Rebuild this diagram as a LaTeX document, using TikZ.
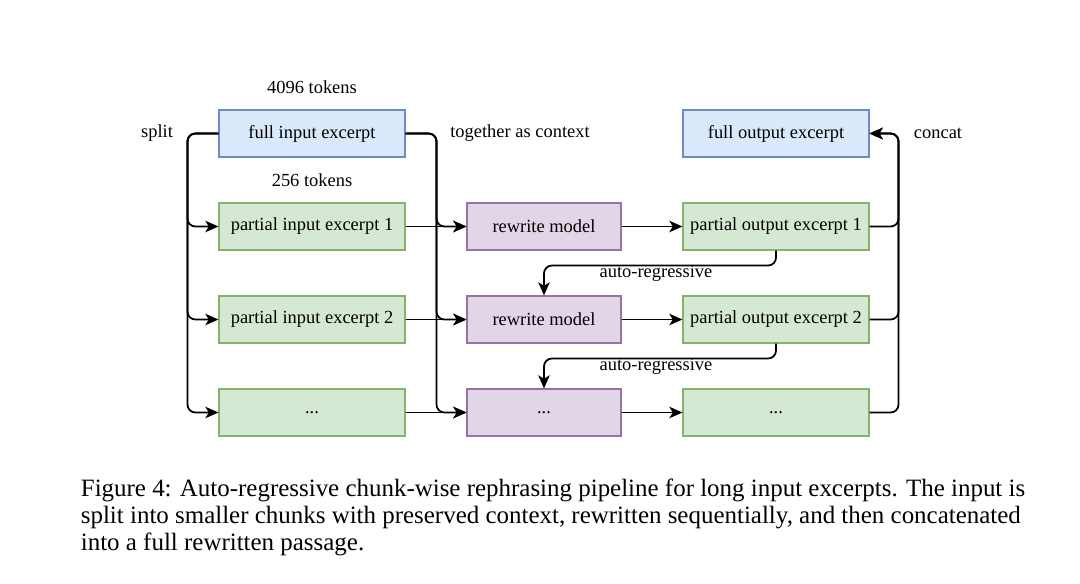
\documentclass[tikz,border=0pt]{standalone}
\usepackage{fontspec}
\setmainfont{Liberation Serif}
\usetikzlibrary{arrows.meta}
\definecolor{inblue}{HTML}{DAE8FC}\definecolor{inblueline}{HTML}{6C8EBF}
\definecolor{chgreen}{HTML}{D5E8D4}\definecolor{chgreenline}{HTML}{82B366}
\definecolor{rwpurple}{HTML}{E1D5E7}\definecolor{rwpurpleline}{HTML}{9673A6}
\tikzset{
 box/.style={draw,line width=0.6pt,minimum height=0.94cm,font=\fontsize{10.5}{12}\selectfont,inner sep=0pt},
 widebox/.style={box,minimum width=3.72cm},
 bluebox/.style={widebox,fill=inblue,draw=inblueline},
 greenbox/.style={widebox,fill=chgreen,draw=chgreenline},
 purplebox/.style={box,minimum width=3.08cm,fill=rwpurple,draw=rwpurpleline},
 lab/.style={font=\fontsize{10.5}{12}\selectfont,inner sep=1pt},
 flow/.style={->,rounded corners=4.5pt}
}
\begin{document}
\begin{tikzpicture}[x=0.02cm,y=-0.02cm,>={Stealth[length=7.5pt,width=6.5pt,inset=2pt]},line width=1pt]
\useasboundingbox (0,0) rectangle (1080,584);
\node[bluebox] (fin) at (312,133.5) {full input excerpt};
\node[bluebox] (fout) at (776,133.5) {full output excerpt};
\foreach \i/\y/\txt in {1/226.5/1,2/319.5/2}{
 \node[greenbox] (pin\i) at (312,\y) {partial input excerpt \txt};
 \node[purplebox] (rw\i) at (544,\y) {rewrite model};
 \node[greenbox] (pout\i) at (776,\y) {partial output excerpt \txt};}
\node[greenbox] (pin3) at (312,412.5) {...};
\node[purplebox] (rw3) at (544,412.5) {...};
\node[greenbox] (pout3) at (776,412.5) {...};
\node[lab] (tok4096) at (312,87) {4096 tokens};
\node[lab] (tok256) at (312,180) {256 tokens};
\node[lab] (split) at (157,133) {split};
\node[lab] (ctx) at (520,133) {together as context};
\node[lab] (concat) at (938,133) {concat};
\foreach \i in {1,2,3}{
 \draw[flow] (fin.west) -- ++(-31,0) |- (pin\i.west);
 \draw[flow] (fin.east) -- ++(31,0) |- (rw\i.west);
 \draw[->] (pin\i) -- (rw\i);
 \draw[->] (rw\i) -- (pout\i);
 \draw[flow] (pout\i.east) -- ++(29,0) |- (fout.east);}
\draw[flow] (pout1.south) -- ++(0,15) -| (rw2.north);
\draw[flow] (pout2.south) -- ++(0,15) -| (rw3.north);
\node[lab] (ar1) at (656,273) {auto-regressive};
\node[lab] (ar2) at (656,366) {auto-regressive};
\node[anchor=north west,align=left,inner sep=0pt,font=\fontsize{14.2}{15.4}\selectfont] (cap) at (80,478)
 {Figure 4: Auto-regressive chunk-wise rephrasing pipeline for long input excerpts. The input is\\
 split into smaller chunks with preserved context, rewritten sequentially, and then concatenated\\
 into a full rewritten passage.};
\end{tikzpicture}
\end{document}
